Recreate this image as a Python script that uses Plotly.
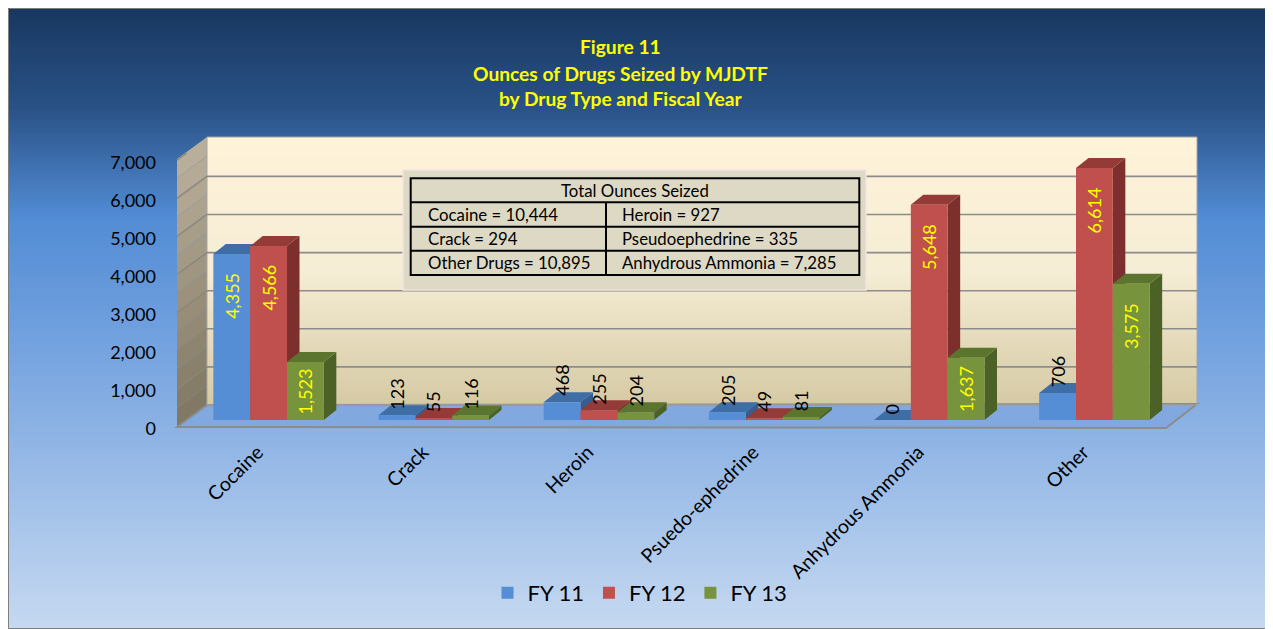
import base64
import struct
import zlib
import plotly.graph_objects as go

# ---------------- data ----------------
categories = ["Cocaine", "Crack", "Heroin", "Psuedo-ephedrine", "Anhydrous Ammonia", "Other"]
series_names = ["FY 11", "FY 12", "FY 13"]
fy11 = [4355, 123, 468, 205, 0, 706]
fy12 = [4566, 55, 255, 49, 5648, 6614]
fy13 = [1523, 116, 204, 81, 1637, 3575]
y_ticks = [0, 1000, 2000, 3000, 4000, 5000, 6000, 7000]
title_lines = ["Figure 11", "Ounces of Drugs Seized by MJDTF", "by Drug Type and Fiscal Year"]
table_title = "Total Ounces Seized"
total_names = ["Cocaine", "Heroin", "Crack", "Pseudoephedrine", "Other Drugs", "Anhydrous Ammonia"]
total_values = [10444, 927, 294, 335, 10895, 7285]

# ---------------- style / layout constants ----------------
PAGE_OFF = 8                      # page body margin in the browser
W, H = 1273 - PAGE_OFF, 629 - PAGE_OFF
FONT = "Lato, 'Open Sans', sans-serif"
front_colors = ["#558ED5", "#C0504D", "#77933C"]
top_colors = ["#3F6DA6", "#943A37", "#5B742E"]
side_colors = ["#365D8F", "#7D2F2D", "#4C6125"]

# positions below are screen px of the 1273x629 window
PLOT_L, PLOT_R = 186.0, 1177.0      # x-domain in px
PLOT_TOP, PLOT_BOT = 153.3, 420.0   # y px of y-range top / bottom
Y_MAX = 7000
BARGAP = 0.331
DEPTH_DX_PX, DEPTH_DY_PX = 12.5, 10.0
BACK_UP_PX = 15        # back wall is this many px above the front baseline
FRONT_DOWN_PX = 7      # front floor edge below the front baseline
WALL_L_FRONT, WALL_L_BACK, WALL_R_BACK, FLOOR_R_FRONT = 177, 207, 1197, 1166
WALL_TOP, WALL_BOT = 137, 405


def fx(p):
    return (p - PAGE_OFF) / W


def fy(p):
    return 1 - (p - PAGE_OFF) / H


n_cat = len(categories)
px_per_cat = (PLOT_R - PLOT_L) / n_cat
px_per_val = (PLOT_BOT - PLOT_TOP) / Y_MAX
dx = DEPTH_DX_PX / px_per_cat
dy = DEPTH_DY_PX / px_per_val
bar_w = (1 - BARGAP) / 3


def lerp_color(stops, t):
    for (t0, c0), (t1, c1) in zip(stops[:-1], stops[1:]):
        if t0 <= t <= t1:
            f = 0 if t1 == t0 else (t - t0) / (t1 - t0)
            return tuple(int(round(a + (b - a) * f)) for a, b in zip(c0, c1))
    return stops[-1][1]


def gradient_png(stops, n=256):
    raw = b""
    for i in range(n):
        c = bytes(lerp_color(stops, i / (n - 1)))
        raw += b"\x00" + c + c

    def chunk(tag, data):
        return (struct.pack(">I", len(data)) + tag + data
                + struct.pack(">I", zlib.crc32(tag + data) & 0xFFFFFFFF))

    png = (b"\x89PNG\r\n\x1a\n"
           + chunk(b"IHDR", struct.pack(">IIBBBBB", 2, n, 8, 2, 0, 0, 0))
           + chunk(b"IDAT", zlib.compress(raw))
           + chunk(b"IEND", b""))
    return "data:image/png;base64," + base64.b64encode(png).decode()


bg_stops = [(0.0, (24, 56, 96)), (0.16, (42, 82, 135)), (0.335, (82, 140, 212)),
            (0.52, (112, 160, 222)), (1.0, (198, 217, 241))]
wall_stops = [(0.0, (255, 243, 217)), (0.5, (245, 237, 213)), (1.0, (214, 202, 165))]

fig = go.Figure()
series = [fy11, fy12, fy13]
for k, (name, vals) in enumerate(zip(series_names, series)):
    fig.add_trace(go.Bar(x=categories, y=vals, name=name,
                         marker=dict(color=front_colors[k], line=dict(width=0)),
                         hoverinfo="x+y+name"))

shapes = []
# frame
shapes.append(dict(type="rect", xref="paper", yref="paper", x0=0.0004, x1=0.9996,
                   y0=0.0008, y1=0.9992, line=dict(color="#7F7F7F", width=1),
                   fillcolor="rgba(0,0,0,0)", layer="below"))
# left wall in bands (vertical gradient)
n_band = 14
for b in range(n_band):
    t0, t1 = b / n_band, (b + 1) / n_band
    c = lerp_color([(0, (186, 176, 156)), (1, (128, 119, 99))], (t0 + t1) / 2)
    yb0 = WALL_TOP + (WALL_BOT - WALL_TOP) * t0
    yb1 = WALL_TOP + (WALL_BOT - WALL_TOP) * t1
    shift = 22
    path = (f"M{fx(WALL_L_FRONT)},{fy(yb0 + shift)} L{fx(WALL_L_BACK)},{fy(yb0)} "
            f"L{fx(WALL_L_BACK)},{fy(yb1)} L{fx(WALL_L_FRONT)},{fy(yb1 + shift)} Z")
    shapes.append(dict(type="path", xref="paper", yref="paper", path=path,
                       fillcolor="rgb(%d,%d,%d)" % c, line=dict(width=0), layer="below"))
# floor
floor_path = (f"M{fx(WALL_L_FRONT)},{fy(427)} L{fx(WALL_L_BACK)},{fy(405)} "
              f"L{fx(WALL_R_BACK)},{fy(404)} L{fx(FLOOR_R_FRONT)},{fy(428)} Z")
shapes.append(dict(type="path", xref="paper", yref="paper", path=floor_path,
                   fillcolor="#82A9DF", line=dict(color="#8C8C8C", width=2), layer="below"))
# back wall outline
shapes.append(dict(type="rect", xref="paper", yref="paper", x0=fx(WALL_L_BACK), x1=fx(WALL_R_BACK),
                   y0=fy(WALL_BOT), y1=fy(WALL_TOP), line=dict(color="#A6A6A6", width=1),
                   fillcolor="rgba(0,0,0,0)", layer="below"))
# gridlines on back wall and left wall, positioned through the y axis
for v in y_ticks[1:]:
    shapes.append(dict(type="line", xref="paper", yref="y", ysizemode="pixel", yanchor=v,
                       x0=fx(WALL_L_BACK), x1=fx(WALL_R_BACK), y0=BACK_UP_PX, y1=BACK_UP_PX,
                       line=dict(color="#8C8C8C", width=1.6), layer="below"))
    shapes.append(dict(type="path", xref="paper", yref="y", ysizemode="pixel", yanchor=v,
                       path=f"M{fx(WALL_L_FRONT)},{-FRONT_DOWN_PX} L{fx(WALL_L_BACK)},{BACK_UP_PX}",
                       line=dict(color="#8E8676", width=1.3), layer="below"))

# table box
TB_L, TB_R, TB_T, TB_B = 410.7, 859.3, 178.3, 275.0
rows_y = [178.3, 202.3, 226.7, 250.7, 275.0]
COL_X = 606
shapes.append(dict(type="rect", xref="paper", yref="paper", x0=fx(403), x1=fx(866),
                   y0=fy(290), y1=fy(170), fillcolor="#DDD9C4",
                   line=dict(color="#F2E4DF", width=1.5), layer="below"))
shapes.append(dict(type="rect", xref="paper", yref="paper", x0=fx(TB_L), x1=fx(TB_R),
                   y0=fy(TB_B), y1=fy(TB_T), fillcolor="rgba(0,0,0,0)",
                   line=dict(color="black", width=2), layer="below"))
for ry in rows_y[1:-1]:
    shapes.append(dict(type="line", xref="paper", yref="paper", x0=fx(TB_L), x1=fx(TB_R),
                       y0=fy(ry), y1=fy(ry), line=dict(color="black", width=2), layer="below"))
shapes.append(dict(type="line", xref="paper", yref="paper", x0=fx(COL_X), x1=fx(COL_X),
                   y0=fy(rows_y[1]), y1=fy(rows_y[-1]), line=dict(color="black", width=2),
                   layer="below"))

# 3D faces of bars (data coordinates), drawn below the bar traces
annotations = []
for i in range(n_cat):
    for k, vals in enumerate(series):
        v = vals[i]
        c = i - (1 - BARGAP) / 2 + (k + 0.5) * bar_w
        L, R = c - bar_w / 2, c + bar_w / 2
        if v > 0:
            side = (f"M{R},0 L{R},{v} L{R + dx},{v + dy} L{R + dx},{dy} Z")
            shapes.append(dict(type="path", xref="x", yref="y", path=side,
                               fillcolor=side_colors[k], line=dict(width=0), layer="below"))
        top = (f"M{L},{v} L{R},{v} L{R + dx},{v + dy} L{L + dx},{v + dy} Z")
        shapes.append(dict(type="path", xref="x", yref="y", path=top,
                           fillcolor=top_colors[k], line=dict(width=0), layer="below"))
        # data label
        bar_px = v * px_per_val
        if bar_px > 52:
            annotations.append(dict(x=c, y=v, xref="x", yref="y", text=f"{v:,}", textangle=-90,
                                    showarrow=False, yanchor="middle", xanchor="center",
                                    yshift=-min(42, bar_px / 2),
                                    font=dict(family=FONT, size=18, color="#FFFF00")))
        else:
            annotations.append(dict(x=c, y=v, xref="x", yref="y", text=f"{v:,}", textangle=-90,
                                    showarrow=False, yanchor="bottom", xanchor="center",
                                    yshift=4, font=dict(family=FONT, size=18, color="black")))

# title
title_y = [46.7, 73.3, 98.3]
for line, ty in zip(title_lines, title_y):
    annotations.append(dict(x=fx(620), y=fy(ty), xref="paper", yref="paper", text=f"<b>{line}</b>",
                            showarrow=False, xanchor="center", yanchor="middle",
                            font=dict(family=FONT, size=19.2, color="#FFFF00")))

# table text
annotations.append(dict(x=fx((TB_L + TB_R) / 2), y=fy((rows_y[0] + rows_y[1]) / 2), xref="paper",
                        yref="paper", text=table_title, showarrow=False, xanchor="center",
                        yanchor="middle", font=dict(family=FONT, size=16.8, color="black")))
cell_x = [426, 620]
for j, (nm, val) in enumerate(zip(total_names, total_values)):
    r, col = j // 2, j % 2
    ymid = (rows_y[r + 1] + rows_y[r + 2]) / 2
    annotations.append(dict(x=fx(cell_x[col]), y=fy(ymid), xref="paper", yref="paper",
                            text=f"{nm} = {val:,}", showarrow=False, xanchor="left",
                            yanchor="middle", font=dict(family=FONT, size=16.8, color="black")))

bg_img = gradient_png(bg_stops)
wall_img = gradient_png(wall_stops)
images = [
    dict(source=bg_img, xref="paper", yref="paper", x=0, y=1, sizex=1, sizey=1,
         xanchor="left", yanchor="top", sizing="stretch", layer="below"),
    dict(source=wall_img, xref="paper", yref="paper", x=fx(WALL_L_BACK), y=fy(WALL_TOP),
         sizex=fx(WALL_R_BACK) - fx(WALL_L_BACK), sizey=fy(WALL_TOP) - fy(WALL_BOT),
         xanchor="left", yanchor="top", sizing="stretch", layer="below"),
]

fig.update_layout(
    template="none",
    width=W, height=H,
    margin=dict(l=0, r=0, t=0, b=0),
    paper_bgcolor="white",
    plot_bgcolor="rgba(0,0,0,0)",
    font=dict(family=FONT, size=18, color="black"),
    barmode="group", bargap=BARGAP, bargroupgap=0,
    shapes=shapes, annotations=annotations, images=images,
    showlegend=True,
    legend=dict(orientation="h", x=fx(640), xanchor="center", y=fy(593), yanchor="middle",
                font=dict(family=FONT, size=22, color="black"), bgcolor="rgba(0,0,0,0)"),
    xaxis=dict(domain=[fx(PLOT_L), fx(PLOT_R)], type="category", range=[-0.5, n_cat - 0.5],
               showgrid=False, zeroline=False, showline=False, ticks="", tickangle=-45,
               tickfont=dict(family=FONT, size=19.5, color="black"), ticklabelstandoff=16,
               ticklabelshift=-11, automargin=False, fixedrange=True),
    yaxis=dict(domain=[fy(PLOT_BOT), fy(PLOT_TOP)], range=[0, Y_MAX], tickvals=y_ticks,
               tickformat=",", showgrid=False, zeroline=False, showline=False, ticks="",
               tickfont=dict(family=FONT, size=18, color="black"), ticklabelshift=9,
               ticklabelstandoff=29, automargin=False, fixedrange=True),
)

fig.write_html("out.html")
